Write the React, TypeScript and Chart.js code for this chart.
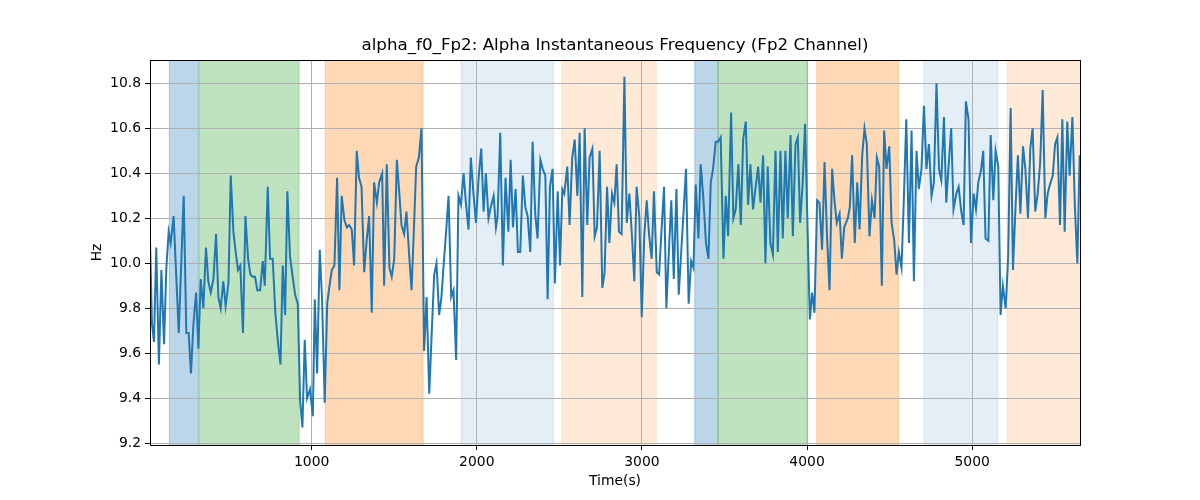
import React, { useEffect, useRef } from "react";
import { Chart, registerables } from "chart.js";

Chart.register(...registerables);

const FONT = "DejaVu Sans";
const TITLE = "alpha_f0_Fp2: Alpha Instantaneous Frequency (Fp2 Channel)";
const X_LABEL = "Time(s)";
const Y_LABEL = "Hz";

const X_TICKS = [1000, 2000, 3000, 4000, 5000];
const Y_TICKS = [9.2, 9.4, 9.6, 9.8, 10.0, 10.2, 10.4, 10.6, 10.8];
const X_MIN = 21;
const X_MAX = 5653;
const Y_MIN = 9.192;
const Y_MAX = 10.904;

// Time stamps (s)
const TIME = [
  21, 33, 45, 59, 75, 90, 106, 120, 134, 146, 164, 195, 225, 241, 255, 269, 284, 300, 314, 328, 344, 360, 374, 389, 405, 421, 435, 449, 465, 479, 496, 510, 526, 540, 554, 568, 584, 599, 615, 629, 643, 657, 671, 688, 704, 716,
  734, 748, 764, 780, 797, 811, 825, 839, 853, 869, 885, 900, 916, 930, 944, 958, 972, 990, 1007, 1019, 1033, 1049, 1063, 1079, 1094, 1108, 1122, 1138, 1154, 1168, 1182, 1199, 1213, 1227, 1243, 1257, 1273, 1287, 1302, 1318, 1334, 1348, 1364, 1378, 1395, 1409,
  1427, 1439, 1455, 1471, 1485, 1500, 1516, 1530, 1544, 1560, 1574, 1591, 1605, 1619, 1633, 1649, 1665, 1681, 1696, 1712, 1727, 1742, 1756, 1772, 1786, 1800, 1815, 1829, 1845, 1859, 1875, 1889, 1904, 1920, 1934, 1950, 1964, 1980, 1995, 2011, 2027, 2041, 2055, 2071, 2085, 2102, 2116,
  2126, 2142, 2158, 2174, 2191, 2205, 2219, 2235, 2249, 2263, 2279, 2294, 2308, 2324, 2338, 2354, 2368, 2385, 2399, 2415, 2429, 2443, 2459, 2473, 2490, 2504, 2518, 2530, 2548, 2562, 2578, 2593, 2609, 2623, 2639, 2653, 2669, 2683, 2700, 2714, 2728, 2744, 2760, 2774, 2789, 2803, 2819,
  2833, 2847, 2861, 2877, 2894, 2908, 2924, 2939, 2954, 2968, 2984, 2999, 3014, 3029, 3043, 3059, 3073, 3090, 3104, 3119, 3134, 3148, 3163, 3178, 3193, 3209, 3223, 3238, 3253, 3267, 3283, 3298, 3312, 3326, 3342, 3356, 3372, 3388, 3403, 3417, 3431, 3447, 3461, 3477, 3494, 3508, 3522,
  3540, 3554, 3568, 3584, 3599, 3613, 3629, 3643, 3657, 3673, 3687, 3704, 3718, 3734, 3748, 3762, 3778, 3793, 3809, 3823, 3839, 3853, 3869, 3883, 3900, 3914, 3930, 3944, 3958, 3973, 3988, 4002, 4017, 4031, 4045, 4061, 4075, 4091, 4106, 4121, 4136, 4152, 4166, 4180, 4197, 4211, 4225,
  4247, 4259, 4273, 4289, 4304, 4318, 4334, 4348, 4362, 4378, 4393, 4409, 4423, 4437, 4453, 4467, 4481, 4498, 4512, 4528, 4542, 4556, 4572, 4586, 4601, 4617, 4633, 4647, 4663, 4677, 4693, 4708, 4723, 4738, 4754, 4768, 4784, 4799, 4813, 4829, 4843, 4858, 4873, 4887, 4904, 4918, 4934,
  4948, 4962, 4978, 4993, 5009, 5023, 5037, 5053, 5067, 5081, 5098, 5112, 5128, 5142, 5158, 5172, 5186, 5203, 5218, 5233, 5247, 5262, 5277, 5292, 5308, 5322, 5338, 5352, 5366, 5382, 5397, 5412, 5427, 5443, 5457, 5471, 5488, 5502, 5516, 5532, 5546, 5560, 5576, 5590, 5607, 5622, 5637, 5651,
];

// Instantaneous alpha frequency (Hz)
const FREQ = [
  10.10, 9.73, 9.65, 10.07, 9.55, 9.97, 9.64, 9.98, 10.14, 10.09, 10.21, 9.69, 10.30, 9.69, 9.69, 9.51, 9.73, 9.87, 9.62, 9.93, 9.80, 10.07, 9.92, 9.87, 9.93, 10.13, 9.85, 9.80, 9.92, 9.81, 9.91, 10.39, 10.14, 10.05, 9.97, 9.99, 9.69, 10.21, 10.02, 9.95, 9.94, 9.94, 9.88, 9.88, 10.01, 9.90,
  10.34, 10.02, 10.02, 9.78, 9.64, 9.55, 9.99, 9.77, 10.32, 10.03, 9.94, 9.86, 9.82, 9.39, 9.27, 9.66, 9.40, 9.44, 9.32, 9.84, 9.51, 10.06, 9.84, 9.38, 9.82, 9.90, 9.97, 9.99, 10.38, 9.88, 10.30, 10.19, 10.16, 10.17, 10.15, 9.99, 10.50, 10.38, 10.34, 9.96, 10.11, 10.21, 9.78, 10.36, 10.27, 10.36,
  10.40, 9.90, 10.44, 9.98, 9.94, 10.02, 10.46, 10.32, 10.17, 10.13, 10.23, 10.03, 9.88, 10.15, 10.43, 10.47, 10.60, 9.61, 9.85, 9.42, 9.69, 9.95, 10.00, 9.77, 9.85, 10.00, 10.15, 10.30, 9.85, 9.88, 9.57, 10.30, 10.26, 10.40, 10.27, 10.15, 10.47, 10.31, 10.18, 10.38, 10.51, 10.23, 10.40, 10.20, 10.25, 10.30, 10.16,
  10.21, 10.58, 9.99, 10.38, 10.14, 10.46, 10.16, 10.33, 10.05, 10.05, 10.39, 10.25, 10.21, 10.05, 10.54, 10.22, 10.11, 10.46, 10.42, 10.39, 9.84, 10.34, 10.42, 9.91, 10.32, 9.99, 10.33, 10.31, 10.43, 10.17, 10.47, 10.55, 10.30, 10.58, 9.85, 10.60, 10.17, 10.47, 10.51, 10.12, 10.16, 10.50, 9.89, 9.96, 10.34, 10.09, 10.31,
  10.27, 10.44, 10.14, 10.13, 10.83, 10.18, 10.31, 10.13, 9.92, 10.34, 10.21, 9.76, 10.12, 10.28, 10.13, 10.02, 10.32, 9.96, 9.95, 10.15, 10.34, 9.80, 10.05, 10.28, 9.93, 10.33, 9.86, 10.05, 10.24, 10.42, 9.82, 10.01, 9.98, 10.35, 10.11, 10.44, 10.29, 10.09, 10.02, 10.36, 10.42, 10.54, 10.54, 10.56, 10.02, 10.30, 10.12,
  10.67, 10.20, 10.24, 10.44, 10.17, 10.55, 10.63, 10.26, 10.44, 10.24, 10.33, 10.43, 10.27, 10.48, 10.00, 10.43, 10.09, 10.04, 10.50, 10.05, 10.50, 10.11, 10.50, 10.20, 10.57, 10.12, 10.53, 10.56, 10.18, 10.35, 10.62, 10.19, 9.75, 9.87, 9.78, 10.28, 10.27, 10.06, 10.45, 10.12, 9.88, 10.42, 10.28, 10.18, 10.22, 10.02, 10.16,
  10.20, 10.25, 10.48, 10.09, 10.36, 10.15, 10.48, 10.60, 10.53, 10.12, 10.28, 10.20, 10.47, 10.43, 9.90, 10.59, 10.42, 10.52, 10.18, 10.10, 9.95, 10.05, 9.98, 10.28, 10.64, 10.09, 10.59, 9.92, 10.50, 10.33, 10.42, 10.70, 10.42, 10.53, 10.30, 10.36, 10.80, 10.42, 10.37, 10.65, 10.27, 10.44, 10.60, 10.24, 10.31, 10.34, 10.23,
  10.17, 10.72, 10.64, 10.09, 10.31, 10.24, 10.36, 10.41, 10.50, 10.11, 10.10, 10.57, 10.28, 10.50, 10.43, 9.77, 9.90, 9.80, 10.03, 10.69, 9.97, 10.24, 10.48, 10.22, 10.52, 10.42, 10.20, 10.51, 10.60, 10.23, 10.31, 10.45, 10.77, 10.20, 10.31, 10.35, 10.39, 10.53, 10.56, 10.17, 10.64, 10.14, 10.63, 10.39, 10.65, 10.25, 10.00, 10.48,
];

// Shaded spans (s)
const BAND_START = [138, 318, 1083, 1904, 2514, 3320, 3461, 4059, 4708, 5211];
const BAND_END = [314, 924, 1675, 2465, 3087, 3461, 4001, 4554, 5156, 5700];
const BAND_KIND = ["blue", "green", "orange", "lightblue", "lightorange", "blue", "green", "orange", "lightblue", "lightorange"];

const BAND_COLORS: Record<string, string> = {
  blue: "rgba(31,119,180,0.3)",
  green: "rgba(44,160,44,0.3)",
  orange: "rgba(255,127,14,0.3)",
  lightblue: "rgba(31,119,180,0.12)",
  lightorange: "rgba(255,127,14,0.16)",
};

const bandsPlugin = {
  id: "bands",
  beforeDraw(chart: any) {
    const { ctx, chartArea: a, scales } = chart;
    const xs = scales.x;
    ctx.save();
    ctx.beginPath();
    ctx.rect(a.left, a.top, a.right - a.left, a.bottom - a.top);
    ctx.clip();
    BAND_START.forEach((s, i) => {
      const x0 = xs.getPixelForValue(s);
      const x1 = xs.getPixelForValue(BAND_END[i]);
      const c = BAND_COLORS[BAND_KIND[i]];
      ctx.fillStyle = c;
      ctx.fillRect(x0, a.top, x1 - x0, a.bottom - a.top);
      ctx.strokeStyle = c;
      ctx.lineWidth = 1;
      ctx.beginPath();
      ctx.moveTo(x0, a.top);
      ctx.lineTo(x0, a.bottom);
      ctx.moveTo(x1, a.top);
      ctx.lineTo(x1, a.bottom);
      ctx.stroke();
    });
    ctx.restore();
  },
};

const framePlugin = {
  id: "frame",
  afterDatasetsDraw(chart: any) {
    const { ctx, chartArea: a } = chart;
    ctx.save();
    ctx.strokeStyle = "#000";
    ctx.lineWidth = 1;
    ctx.strokeRect(Math.floor(a.left) + 0.5, Math.floor(a.top) + 0.5, Math.round(a.right - a.left), Math.round(a.bottom - a.top));
    ctx.restore();
  },
};

export default function App() {
  const ref = useRef<HTMLCanvasElement>(null);
  useEffect(() => {
    if (!ref.current) return;
    const tickFont = { family: FONT, size: 13.9 };
    const chart = new Chart(ref.current, {
      type: "line",
      data: {
        datasets: [
          {
            data: TIME.map((t, i) => ({ x: t, y: FREQ[i] })),
            borderColor: "#1f77b4",
            borderWidth: 2,
            pointRadius: 0,
            tension: 0,
            fill: false,
          },
        ],
      },
      options: {
        responsive: false,
        devicePixelRatio: 1,
        animation: false,
        events: [],
        layout: { padding: { left: 0, right: 120, top: 0, bottom: 0 } },
        plugins: {
          legend: { display: false },
          tooltip: { enabled: false },
          title: {
            display: true,
            fullSize: false,
            text: TITLE,
            color: "#000",
            font: { family: FONT, size: 16.7, weight: "normal", lineHeight: "20px" },
            padding: { top: 36, bottom: 4 },
          },
        },
        scales: {
          x: {
            type: "linear",
            min: X_MIN,
            max: X_MAX,
            afterBuildTicks: (s: any) => {
              s.ticks = X_TICKS.map((v) => ({ value: v }));
            },
            afterFit: (s: any) => {
              s.height = 55;
            },
            ticks: {
              color: "#000",
              font: tickFont,
              padding: 4,
              maxRotation: 0,
              autoSkip: false,
              callback: (v: any) => String(v),
            },
            grid: { color: "#b0b0b0", lineWidth: 1, tickColor: "#000", tickLength: 5, tickWidth: 1 },
            border: { display: false },
            title: {
              display: true,
              text: X_LABEL,
              color: "#000",
              font: { family: FONT, size: 13.9, lineHeight: 1.2 },
              padding: { top: 0, bottom: 10.7 },
            },
          },
          y: {
            type: "linear",
            min: Y_MIN,
            max: Y_MAX,
            afterBuildTicks: (s: any) => {
              s.ticks = Y_TICKS.map((v) => ({ value: v }));
            },
            afterFit: (s: any) => {
              s.width = 150;
            },
            ticks: {
              color: "#000",
              font: tickFont,
              padding: 4,
              autoSkip: false,
              callback: (v: any) => Number(v).toFixed(1),
            },
            grid: { color: "#b0b0b0", lineWidth: 1, tickColor: "#000", tickLength: 5, tickWidth: 1 },
            border: { display: false },
            title: {
              display: true,
              text: Y_LABEL,
              color: "#000",
              font: { family: FONT, size: 13.9, lineHeight: 1.2 },
              padding: { top: 88.7, bottom: 0 },
            },
          },
        },
      } as any,
      plugins: [bandsPlugin, framePlugin],
    });
    return () => chart.destroy();
  }, []);
  return (
    <div style={{ position: "fixed", left: 0, top: 0, width: 1200, height: 500, background: "#fff" }}>
      <canvas ref={ref} width={1200} height={500} style={{ display: "block", width: 1200, height: 500 }} />
    </div>
  );
}
